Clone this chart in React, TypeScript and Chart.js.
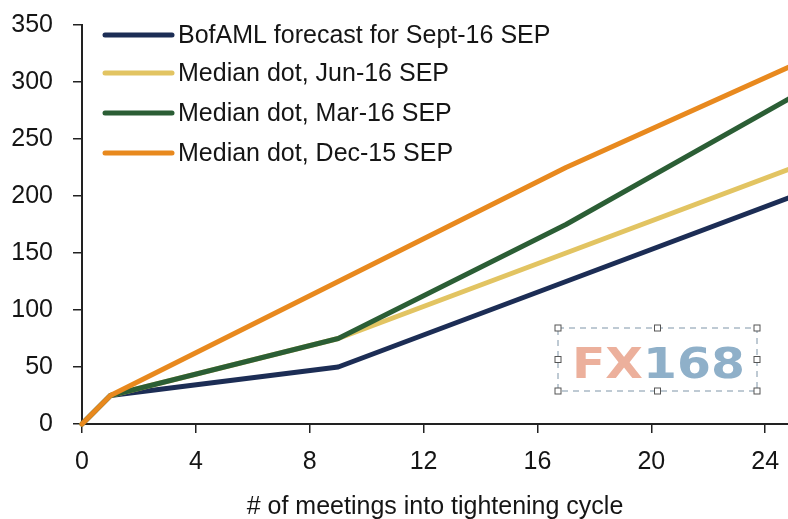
import React, { useEffect, useRef } from "react";
import { Chart, registerables } from "chart.js";

Chart.register(...registerables);

const meetings = [0, 1, 9, 17, 25];
const bofamlSep16 = [0, 25, 50, 125, 200];
const medianJun16 = [0, 25, 75, 150, 225];
const medianMar16 = [0, 25, 75, 175, 287.5];
const medianDec15 = [0, 25, 125, 225, 315];

const seriesLabels = [
  "BofAML forecast for Sept-16 SEP",
  "Median dot, Jun-16 SEP",
  "Median dot, Mar-16 SEP",
  "Median dot, Dec-15 SEP",
];
const seriesColors = ["#1c2d55", "#e2c462", "#2b5e35", "#e8891e"];
const xTitle = "# of meetings into tightening cycle";

const FONT = "'Liberation Sans', Arial, sans-serif";

const legendPlugin = {
  id: "insideLegend",
  afterDraw(chart: any) {
    const ctx = chart.ctx;
    ctx.save();
    const rows = [35, 73, 113, 153];
    chart.data.datasets.forEach((ds: any, i: number) => {
      const y = rows[i];
      ctx.strokeStyle = ds.borderColor;
      ctx.lineWidth = 5;
      ctx.lineCap = "round";
      ctx.beginPath();
      ctx.moveTo(105, y);
      ctx.lineTo(172, y);
      ctx.stroke();
      ctx.fillStyle = "#151515";
      ctx.font = `25px ${FONT}`;
      ctx.textBaseline = "middle";
      ctx.textAlign = "left";
      ctx.fillText(ds.label, 178, y + 1);
    });
    ctx.restore();
  },
};

const watermarkPlugin = {
  id: "watermark",
  afterDatasetsDraw(chart: any) {
    const ctx = chart.ctx;
    ctx.save();
    const x0 = 558, x1 = 757, y0 = 328, y1 = 391;
    ctx.strokeStyle = "#7f95a8";
    ctx.lineWidth = 1;
    ctx.setLineDash([6, 5]);
    ctx.strokeRect(x0, y0, x1 - x0, y1 - y0);
    ctx.setLineDash([]);
    const xm = (x0 + x1) / 2, ym = (y0 + y1) / 2;
    const handles = [
      [x0, y0], [xm, y0], [x1, y0],
      [x0, ym], [x1, ym],
      [x0, y1], [xm, y1], [x1, y1],
    ];
    handles.forEach(([hx, hy]) => {
      ctx.fillStyle = "#ffffff";
      ctx.fillRect(hx - 3, hy - 3, 6, 6);
      ctx.strokeStyle = "#555";
      ctx.strokeRect(hx - 3, hy - 3, 6, 6);
    });
    ctx.font = `bold 43px 'DejaVu Sans', sans-serif`;
    ctx.textBaseline = "alphabetic";
    ctx.textAlign = "left";
    const wFX = ctx.measureText("FX").width;
    const w168 = ctx.measureText("168").width;
    const scale = 173 / (wFX + w168);
    ctx.translate(572, 378);
    ctx.scale(scale, 1);
    ctx.fillStyle = "#ecb09c";
    ctx.fillText("FX", 0, 0);
    ctx.fillStyle = "#8fb0c9";
    ctx.fillText("168", wFX, 0);
    ctx.restore();
  },
};

export default function App() {
  const ref = useRef<HTMLCanvasElement>(null);
  useEffect(() => {
    if (!ref.current) return;
    const values = [bofamlSep16, medianJun16, medianMar16, medianDec15];
    const chart = new Chart(ref.current, {
      type: "line",
      data: {
        datasets: values.map((vals, i) => ({
          label: seriesLabels[i],
          data: meetings.map((m, j) => ({ x: m, y: vals[j] })),
          borderColor: seriesColors[i],
          backgroundColor: seriesColors[i],
          borderWidth: 5,
          pointRadius: 0,
          tension: 0,
          fill: false,
          order: 4 - i,
          clip: { left: 5, bottom: 5, top: 5, right: 0 },
          borderCapStyle: "round",
          borderJoinStyle: "round",
        })),
      },
      options: {
        responsive: false,
        animation: false,
        layout: { padding: { top: 25, right: 0, left: 0, bottom: 0 } },
        plugins: {
          legend: { display: false },
          tooltip: { enabled: false },
        },
        scales: {
          x: {
            type: "linear",
            min: 0,
            max: 24.8,
            afterFit: (s: any) => {
              s.height = 95;
              s.paddingRight = 0;
              s.paddingLeft = 0;
            },
            ticks: {
              stepSize: 4,
              includeBounds: false,
              color: "#151515",
              font: { family: FONT, size: 25 },
              padding: 14,
              maxRotation: 0,
            },
            grid: {
              drawOnChartArea: false,
              drawTicks: true,
              tickLength: 9,
              color: "#222",
              lineWidth: 1.5,
            },
            border: { display: true, color: "#222", width: 2 },
            title: {
              display: true,
              text: xTitle,
              color: "#151515",
              font: { family: FONT, size: 25 },
              padding: { top: 4, bottom: -3 },
            },
          },
          y: {
            min: 0,
            max: 350,
            afterFit: (s: any) => {
              s.width = 82;
              s.paddingTop = 0;
              s.paddingBottom = 0;
            },
            ticks: {
              stepSize: 50,
              color: "#151515",
              font: { family: FONT, size: 25 },
              padding: 20,
            },
            grid: {
              drawOnChartArea: false,
              drawTicks: true,
              tickLength: 9,
              color: "#222",
              lineWidth: 1.5,
            },
            border: { display: true, color: "#222", width: 2 },
          },
        },
      },
      plugins: [watermarkPlugin, legendPlugin],
    } as any);
    return () => chart.destroy();
  }, []);
  return (
    <div style={{ position: "absolute", left: 0, top: 0, width: 788, height: 519, background: "#fff" }}>
      <canvas ref={ref} width={788} height={519} />
    </div>
  );
}
